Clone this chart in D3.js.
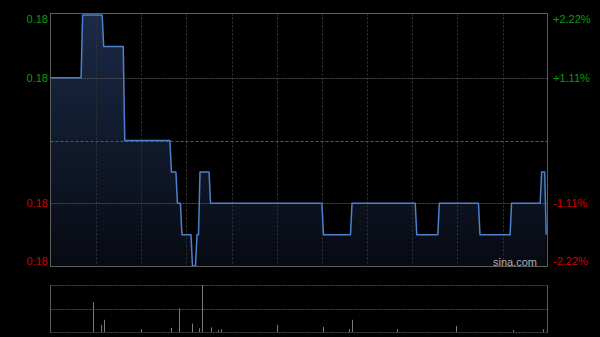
<!DOCTYPE html>
<html>
<head>
<meta charset="utf-8">
<script src="https://cdnjs.cloudflare.com/ajax/libs/d3/7.8.5/d3.min.js"></script>
<style>
  html, body { margin: 0; padding: 0; background: #000; }
  svg { display: block; }
  text { font-family: "Liberation Sans", Arial, sans-serif; font-size: 11px; }
</style>
</head>
<body>
<div id="chart"></div>
<script>
// minute index since open (0..330) and price at that minute
var priceTimes  = [0, 20, 21, 34, 35, 48, 49, 79, 80, 83, 84, 86, 87, 93, 94, 96, 97, 98, 99, 105, 106, 180, 181, 199, 200, 242, 243, 257, 258, 284, 285, 305, 306, 325, 326, 328, 329];
var priceValues = [0.182, 0.182, 0.184, 0.184, 0.183, 0.183, 0.180, 0.180, 0.179, 0.179, 0.178, 0.178, 0.177, 0.177, 0.176, 0.176, 0.177, 0.177, 0.179, 0.179, 0.178, 0.178, 0.177, 0.177, 0.178, 0.178, 0.177, 0.177, 0.178, 0.178, 0.177, 0.177, 0.178, 0.178, 0.179, 0.179, 0.177];

// volume bars (relative to the biggest one)
var volTimes  = [28, 33, 35, 60, 80, 85, 94, 98, 100, 106, 111, 113, 150, 181, 198, 200, 230, 269, 307, 327];
var volValues = [63, 15, 26, 6, 9, 50, 18, 8, 100, 10, 4, 6, 15, 11, 6, 26, 6, 13, 4, 6];

var prevClose = 0.180;
var levelPrices = [0.184, 0.182, 0.180, 0.178, 0.176];
var levelLabels = ["0.18", "0.18", "", "0.18", "0.18"];
var pctLabels   = ["+2.22%", "+1.11%", "", "-1.11%", "-2.22%"];
var gridMinutes = [30, 60, 90, 120, 150, 180, 210, 240, 270, 300];

var svgWidth = 600;
var svgHeight = 337;

var plot = { left: 50.5, right: 547.5, top: 13.5, bottom: 266.5 };
var vol = { top: 285.5, mid: 309.5, bottom: 332.5 };

var svg = d3.select("#chart")
  .append("svg")
  .attr("width", svgWidth)
  .attr("height", svgHeight);

svg.append("rect")
  .attr("width", svgWidth)
  .attr("height", svgHeight)
  .attr("fill", "#000");

var xScale = d3.scaleLinear()
  .domain([0, 330])
  .range([51, 547.7]);

var yScale = d3.scaleLinear()
  .domain([0.176, 0.184])
  .range([266, 15]);

var volScale = d3.scaleLinear()
  .domain([0, 100])
  .range([332, 285]);

var priceData = priceTimes.map(function(t, i) { return { t: t, p: priceValues[i] }; });

// gradient for area
var grad = svg.append("defs").append("linearGradient")
  .attr("id", "areaGrad")
  .attr("gradientUnits", "userSpaceOnUse")
  .attr("x1", 0).attr("y1", plot.top)
  .attr("x2", 0).attr("y2", plot.bottom);
grad.append("stop").attr("offset", "0%").attr("stop-color", "#1b2a47");
grad.append("stop").attr("offset", "100%").attr("stop-color", "#070a12");

// area + line
var area = d3.area()
  .x(d => xScale(d.t))
  .y0(plot.bottom)
  .y1(d => yScale(d.p));

var line = d3.line()
  .x(d => xScale(d.t))
  .y(d => yScale(d.p));

svg.append("path")
  .datum(priceData)
  .attr("d", area)
  .attr("fill", "url(#areaGrad)");

// vertical grid
svg.append("g")
  .selectAll("line")
  .data(gridMinutes)
  .enter()
  .append("line")
  .attr("x1", d => Math.round(xScale(d)) + 0.5)
  .attr("x2", d => Math.round(xScale(d)) + 0.5)
  .attr("y1", plot.top)
  .attr("y2", plot.bottom)
  .attr("stroke", "#333")
  .attr("stroke-dasharray", "2,2");

// horizontal grid
svg.append("g")
  .selectAll("line")
  .data(levelPrices.slice(1, 4))
  .enter()
  .append("line")
  .attr("x1", plot.left)
  .attr("x2", plot.right)
  .attr("y1", d => Math.round(yScale(d)) + 0.5)
  .attr("y2", d => Math.round(yScale(d)) + 0.5)
  .attr("stroke", d => d === prevClose ? "#5a5a5a" : "#4a4a4a")
  .attr("stroke-dasharray", d => d === prevClose ? "3,2" : "2,1");

svg.append("path")
  .datum(priceData)
  .attr("d", line)
  .attr("fill", "none")
  .attr("stroke", "#4b80cc")
  .attr("stroke-width", 1.5)
  .attr("stroke-linejoin", "round");

// frame
svg.append("rect")
  .attr("x", plot.left)
  .attr("y", plot.top)
  .attr("width", plot.right - plot.left)
  .attr("height", plot.bottom - plot.top)
  .attr("fill", "none")
  .attr("stroke", "#5c5c5c");

// axis labels
function labelY(i) {
  var y = yScale(levelPrices[i]);
  if (i === 0) return y + 4;
  if (i === levelPrices.length - 1) return y - 5;
  return y;
}
function labelColor(i) {
  return levelPrices[i] > prevClose ? "#0a9e0a" : "#d00000";
}

svg.append("g")
  .selectAll("text")
  .data(levelLabels)
  .enter()
  .append("text")
  .attr("x", 48)
  .attr("y", (d, i) => labelY(i))
  .attr("dy", "0.35em")
  .attr("text-anchor", "end")
  .attr("fill", (d, i) => labelColor(i))
  .text(d => d);

svg.append("g")
  .selectAll("text")
  .data(pctLabels)
  .enter()
  .append("text")
  .attr("x", 553)
  .attr("y", (d, i) => labelY(i))
  .attr("dy", "0.35em")
  .attr("fill", (d, i) => labelColor(i))
  .text(d => d);

svg.append("text")
  .attr("x", 537)
  .attr("y", 262)
  .attr("dy", "0.35em")
  .attr("text-anchor", "end")
  .attr("fill", "#b0b0b0")
  .text("sina.com");

// volume panel
svg.append("g")
  .selectAll("line")
  .data([vol.top, vol.mid, vol.bottom])
  .enter()
  .append("line")
  .attr("x1", plot.left)
  .attr("x2", plot.right)
  .attr("y1", d => d)
  .attr("y2", d => d)
  .attr("stroke", "#4a4a4a")
  .attr("stroke-dasharray", "2,1");

svg.append("g")
  .selectAll("line")
  .data(volTimes)
  .enter()
  .append("line")
  .attr("x1", d => Math.round(xScale(d)) + 0.5)
  .attr("x2", d => Math.round(xScale(d)) + 0.5)
  .attr("y1", 332)
  .attr("y2", (d, i) => volScale(volValues[i]))
  .attr("stroke", "#7a7a7a");

svg.append("line")
  .attr("x1", plot.left).attr("x2", plot.left)
  .attr("y1", vol.top).attr("y2", vol.bottom)
  .attr("stroke", "#5c5c5c");

svg.append("line")
  .attr("x1", plot.right).attr("x2", plot.right)
  .attr("y1", vol.top).attr("y2", vol.bottom)
  .attr("stroke", "#5c5c5c");
</script>
</body>
</html>
